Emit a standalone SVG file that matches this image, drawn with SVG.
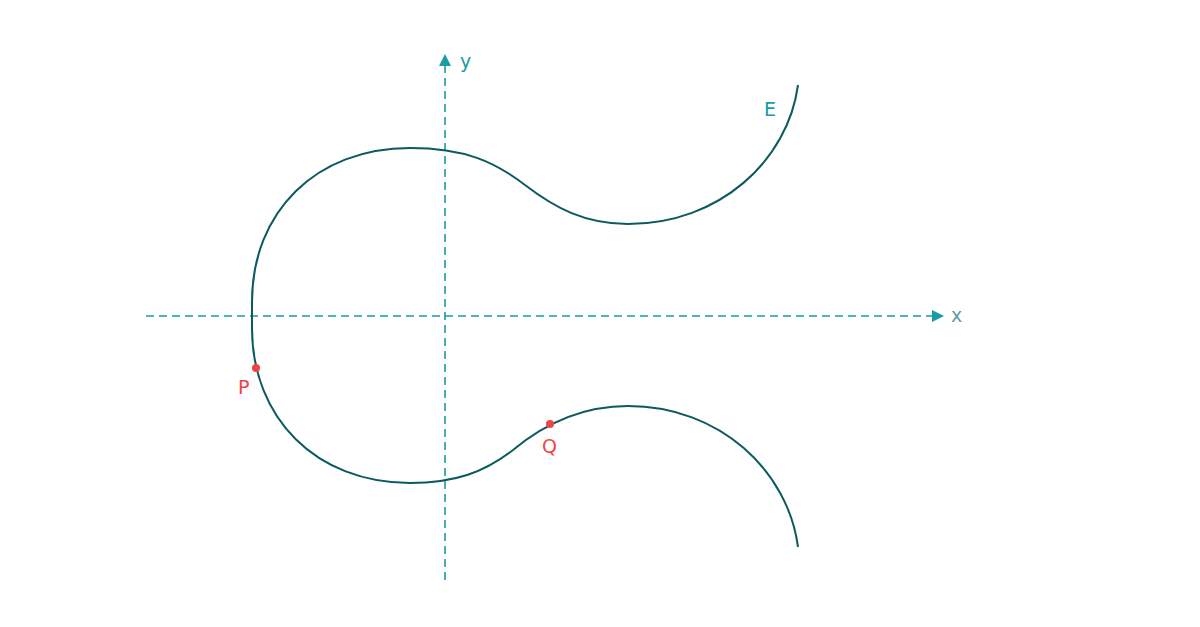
<svg xmlns="http://www.w3.org/2000/svg" width="1200" height="627" viewBox="0 0 1200 627">
<style>
.axis{stroke:#1a9ba6;stroke-width:1.6;stroke-dasharray:8 5;fill:none}
.curve{stroke:#0b5a5f;stroke-width:2;fill:none}
.lbl{font-family:"DejaVu Sans",sans-serif;font-size:19px}
.pt{fill:#f04545}
</style>
<rect width="1200" height="627" fill="#ffffff"/>
<g id="connectors">
<line class="axis" x1="146" y1="316" x2="934" y2="316"/>
<polygon points="932,310 944,316 932,322" fill="#1a9ba6"/>
<line class="axis" x1="445" y1="580" x2="445" y2="66"/>
<polygon points="439,66 445,54 451,66" fill="#1a9ba6"/>
</g>
<g id="curve-E">
<path class="curve" d="M798,85 C788,160 720,224 628,224 C585,224 555,208 525,185 C495,162 465,148 410,148 C316,148 252,212 252,302 L252,328 C252,418 316,483 410,483 C455,483 485,472 513,450 C543,425 580,406 628,406 C720,406 788,471 798,547"/>
<text class="lbl" x="764" y="116" fill="#1a9ba6">E</text>
</g>
<g id="label-y"><text class="lbl" x="460" y="68" fill="#1a9ba6">y</text></g>
<g id="label-x"><text class="lbl" x="951" y="322" fill="#5a9ea3">x</text></g>
<g id="point-P">
<circle class="pt" cx="256" cy="368" r="4"/>
<text class="lbl" x="238" y="394" fill="#f04545">P</text>
</g>
<g id="point-Q">
<circle class="pt" cx="550" cy="424" r="4"/>
<text class="lbl" x="542" y="453" fill="#f04545">Q</text>
</g>
</svg>
